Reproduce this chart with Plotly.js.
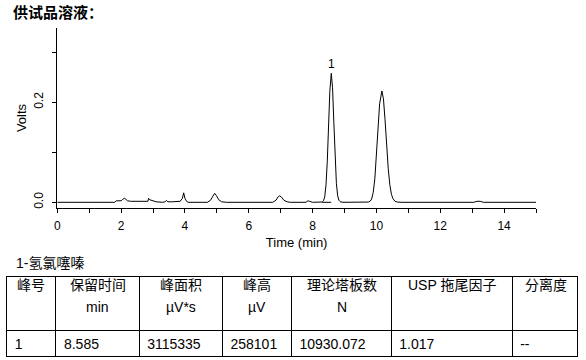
<!DOCTYPE html>
<html>
<head>
<meta charset="utf-8">
<script src="https://cdn.plot.ly/plotly-3.0.1.min.js"></script>
<style>html,body{margin:0;padding:0;background:#fff;}#chart{width:586px;height:360px;}</style>
</head>
<body>
<div id="chart"></div>
<script>
// Chromatogram trace (time in min, signal in Volts)
var timeMin = [0, 1.8, 1.85, 1.9, 1.95, 2.0, 2.05, 2.1, 2.15, 2.2, 2.3, 2.5, 2.8, 2.84, 2.86, 2.9, 3.0, 3.1, 3.3, 3.38, 3.42, 3.46, 3.6, 3.85, 3.92, 3.96, 4.0, 4.05, 4.1, 4.7, 4.8, 4.87, 4.93, 4.99, 5.06, 5.15, 5.3, 6.75, 6.85, 6.92, 6.97, 7.03, 7.1, 7.2, 7.3, 7.8, 7.84, 7.9, 8.0,
  8.3, 8.34, 8.38, 8.42, 8.46, 8.50, 8.54, 8.585, 8.625, 8.665, 8.705, 8.745, 8.785, 8.825, 8.87, 8.95,
  9.75, 9.8, 9.85, 9.9, 9.95, 10.0, 10.05, 10.1, 10.17, 10.22, 10.27, 10.32, 10.37, 10.42, 10.47, 10.52, 10.58, 10.65, 10.8,
  13.05, 13.15, 13.25, 13.35, 15];
var volts = [0, 0, 0.003, 0.003, 0.002, 0.003, 0.006, 0.008, 0.006, 0.003, 0.002, 0.002, 0.002, 0.002, 0.008, 0.005, 0.003, 0.001, 0.0, 0.001, 0.004, 0.001, 0.001, 0.002, 0.008, 0.019, 0.008, 0.002, 0.0, 0.0, 0.004, 0.013, 0.018, 0.013, 0.005, 0.001, 0.0, 0.0, 0.004, 0.011, 0.013, 0.010, 0.004, 0.001, 0.0, 0.0, 0.003, 0.002, 0.0,
  0.0006, 0.003, 0.011, 0.035, 0.082, 0.153, 0.222, 0.258, 0.229, 0.160, 0.088, 0.038, 0.013, 0.004, 0.001, 0.0,
  0.0005, 0.002, 0.0065, 0.02, 0.047, 0.091, 0.146, 0.197, 0.2226, 0.207, 0.165, 0.113, 0.067, 0.035, 0.016, 0.007, 0.002, 0.0005, 0.0,
  0.0, 0.002, 0.002, 0.0, 0.0];
// integration baseline under peak 1
var baseTime = [8.3, 8.87];
var baseVolts = [0, 0];
// peak label
var peakName = ['1'];
var peakTime = [8.585];
var peakHeight = [0.258];
// table
var compoundName = '1-氢氯噻嗪';
var tableHeaders = ['峰号', '保留时间', '峰面积', '峰高', '理论塔板数', 'USP 拖尾因子', '分离度'];
var tableUnits = ['', 'min', 'µV*s', 'µV', 'N', '', ''];
var tableRow = ['1', '8.585', '3115335', '258101', '10930.072', '1.017', '--'];
var columnWidths = [49.3, 83.3, 83.4, 69, 100, 121, 65.6];

var W = 586, H = 360;
var FONT = 'Liberation Sans, Arial, Noto Sans CJK SC, sans-serif';
var tableLeft = 6.7, tableTop = 276;

// header labels drawn as centred annotations over the (blank) header cells
var annotations = [
  {x: peakTime[0], y: peakHeight[0], xref: 'x', yref: 'y', text: peakName[0], showarrow: false, yanchor: 'bottom', yshift: 0,
    font: {family: FONT, size: 12, color: '#000'}},
  {x: 14 / W, y: 1 - 263 / H, xref: 'paper', yref: 'paper', text: compoundName, showarrow: false, xanchor: 'left', yanchor: 'middle',
    font: {family: FONT, size: 14, color: '#000'}}
];
var acc = tableLeft;
columnWidths.forEach(function (w, i) {
  var cx = (acc + w / 2) / W;
  annotations.push({x: cx, y: 1 - 285 / H, xref: 'paper', yref: 'paper', text: tableHeaders[i], showarrow: false,
    xanchor: 'center', yanchor: 'middle', font: {family: FONT, size: 14, color: '#000'}});
  if (tableUnits[i]) {
    annotations.push({x: cx, y: 1 - 307 / H, xref: 'paper', yref: 'paper', text: tableUnits[i], showarrow: false,
      xanchor: 'center', yanchor: 'middle', font: {family: FONT, size: 14, color: '#000'}});
  }
  acc += w;
});

var data = [
  {type: 'scatter', mode: 'lines', x: timeMin, y: volts, line: {color: '#000', width: 1}, hoverinfo: 'skip'},
  {type: 'scatter', mode: 'lines', x: baseTime, y: baseVolts, line: {color: '#000', width: 1, dash: 'dash'}, hoverinfo: 'skip'},
  {type: 'table', domain: {x: [tableLeft / W, (tableLeft + 571.6) / W], y: [0, 1 - tableTop / H]},
    columnwidth: columnWidths,
    header: {values: tableHeaders.map(function () { return ['']; }), align: 'center', height: 54,
      line: {color: '#000', width: 1}, fill: {color: '#fff'}, font: {family: FONT, size: 14, color: '#000'}},
    cells: {values: tableRow.map(function (t) { return [t]; }), align: 'left', height: 26,
      line: {color: '#000', width: 1}, fill: {color: '#fff'}, font: {family: FONT, size: 14, color: '#000'}}
  }
];

var layout = {
  width: W, height: H,
  margin: {l: 0, r: 0, t: 0, b: 0},
  paper_bgcolor: '#fff', plot_bgcolor: '#fff',
  showlegend: false,
  font: {family: FONT, size: 12, color: '#000'},
  title: {text: '<b>供试品溶液：</b>', x: 13 / W, xanchor: 'left', xref: 'paper', y: 1 - 13 / H, yanchor: 'middle', yref: 'paper',
    font: {family: FONT, size: 15, color: '#000'}},
  xaxis: {domain: [57.3 / W, 536 / W], range: [0, 15], showgrid: false, zeroline: false, automargin: false,
    showline: true, linecolor: '#000', linewidth: 1,
    ticks: 'outside', ticklen: 4, tickcolor: '#000', dtick: 2, tick0: 0, ticklabelstandoff: 3,
    minor: {dtick: 1, ticks: 'outside', ticklen: 4, tickcolor: '#000'},
    tickfont: {family: FONT, size: 12, color: '#000'},
    title: {text: 'Time (min)', standoff: 5, font: {family: FONT, size: 13, color: '#000'}}},
  yaxis: {domain: [1 - 208 / H, 1 - 28 / H], range: [-0.0114, 0.3486], showgrid: false, zeroline: false, automargin: false,
    showline: true, linecolor: '#000', linewidth: 1,
    ticks: 'outside', ticklen: 4, tickcolor: '#000', dtick: 0.2, tick0: 0, tickformat: '.1f', tickangle: -90, ticklabelstandoff: 5,
    minor: {dtick: 0.1, ticks: 'outside', ticklen: 4, tickcolor: '#000'},
    tickfont: {family: FONT, size: 12, color: '#000'},
    title: {text: 'Volts', standoff: 1, font: {family: FONT, size: 13, color: '#000'}}},
  annotations: annotations
};

Plotly.newPlot('chart', data, layout, {displayModeBar: false, staticPlot: true});
</script>
</body>
</html>
